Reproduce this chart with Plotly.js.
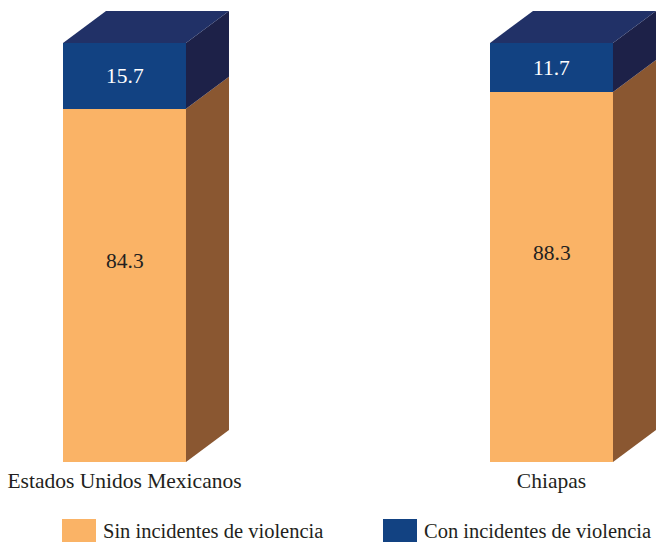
<!DOCTYPE html>
<html>
<head>
<meta charset="utf-8">
<script src="https://cdn.plot.ly/plotly-3.0.1.min.js"></script>
<style>html,body{margin:0;padding:0;background:#fff;}#chart{width:663px;height:542px;}</style>
</head>
<body>
<div id="chart"></div>
<script>
// Data
const categories = ["Estados Unidos Mexicanos", "Chiapas"];
const sinViolencia = [84.3, 88.3];
const conViolencia = [15.7, 11.7];
const seriesNames = ["Sin incidentes de violencia", "Con incidentes de violencia"];

// Styles
const FONT = "'Times New Roman', 'Liberation Serif', Tinos, 'DejaVu Serif', serif";
const C_ORANGE = "#FAB366", C_ORANGE_SIDE = "#8A5731";
const C_BLUE = "#124282", C_BLUE_SIDE = "#1D2148", C_BLUE_TOP = "#213167";
const barW = 0.288;      // bar width in x units
const dX = 0.1007;       // depth offset in x units
const dY = 7.64;         // depth offset in y units

const xs = categories.map((_, i) => i);
const traces = [];

// Front faces
traces.push({type: "bar", x: xs, y: sinViolencia, width: barW, name: seriesNames[0],
  marker: {color: C_ORANGE, line: {width: 0}}, hoverinfo: "skip", showlegend: false});
traces.push({type: "bar", x: xs, y: conViolencia, width: barW, name: seriesNames[1],
  marker: {color: C_BLUE, line: {width: 0}}, hoverinfo: "skip", showlegend: false});

// 3D side and top faces computed from data
xs.forEach((x, i) => {
  const s = sinViolencia[i], tot = sinViolencia[i] + conViolencia[i];
  const r = x + barW / 2, l = x - barW / 2;
  const poly = (px, py, color) => traces.push({type: "scatter", mode: "lines", x: px, y: py,
    fill: "toself", fillcolor: color, line: {width: 0, color: color}, hoverinfo: "skip", showlegend: false});
  poly([r, r + dX, r + dX, r, r], [0, dY, s + dY, s, 0], C_ORANGE_SIDE);
  poly([r, r + dX, r + dX, r, r], [s, s + dY, tot + dY, tot, s], C_BLUE_SIDE);
  poly([l, r, r + dX, l + dX, l], [tot, tot, tot + dY, tot + dY, tot], C_BLUE_TOP);
});

const annotations = [];
xs.forEach((x, i) => {
  annotations.push({x: x, y: sinViolencia[i] / 2, yshift: 24, text: sinViolencia[i].toFixed(1),
    showarrow: false, font: {family: FONT, size: 21.5, color: "#231F20"}});
  annotations.push({x: x, y: sinViolencia[i] + conViolencia[i] / 2, text: conViolencia[i].toFixed(1),
    showarrow: false, font: {family: FONT, size: 21.5, color: "#FFFFFF"}});
});

// Custom legend
const legendColors = [C_ORANGE, C_BLUE];
const legendX = [62, 383];
const W = 663, PH = 462;
const shapes = [];
seriesNames.forEach((n, i) => {
  shapes.push({type: "rect", xref: "paper", yref: "paper", layer: "above",
    x0: legendX[i] / W, x1: (legendX[i] + 34) / W,
    y0: (PH - 542) / PH, y1: (PH - 519) / PH,
    fillcolor: legendColors[i], line: {width: 0}});
  annotations.push({xref: "paper", yref: "paper", x: (legendX[i] + 40) / W, y: (PH - 531) / PH,
    xanchor: "left", yanchor: "middle", text: n, showarrow: false, borderpad: 0,
    font: {family: FONT, size: 20.5, color: "#231F20"}});
});

const layout = {
  width: 663, height: 542,
  margin: {l: 0, r: 0, t: 0, b: 80, pad: 0},
  paper_bgcolor: "#FFFFFF", plot_bgcolor: "#FFFFFF",
  barmode: "stack", showlegend: false,
  font: {family: FONT},
  xaxis: {range: [-124.5 / 427, (663 - 124.5) / 427], tickvals: xs, ticktext: categories,
    showgrid: false, zeroline: false, showline: false, ticks: "", ticklabelstandoff: 3,
    tickfont: {family: FONT, size: 21.5, color: "#231F20"}, fixedrange: true},
  yaxis: {range: [0, 462 / 4.19], visible: false, showgrid: false, zeroline: false, fixedrange: true},
  annotations: annotations, shapes: shapes
};

Plotly.newPlot("chart", traces, layout, {displayModeBar: false, staticPlot: true});
</script>
</body>
</html>
